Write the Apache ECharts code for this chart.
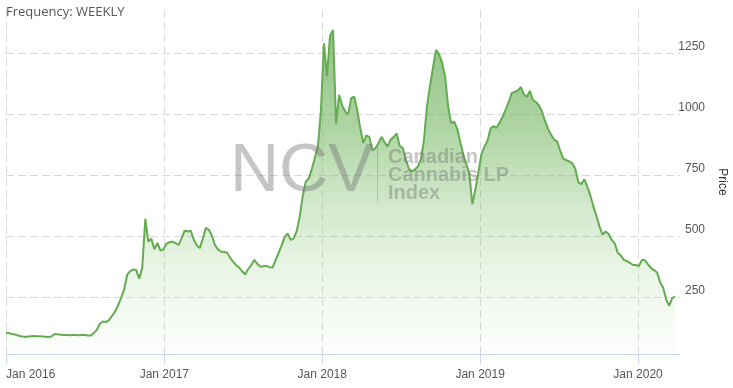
<!DOCTYPE html>
<html>
<head>
<meta charset="utf-8">
<script src="https://cdn.jsdelivr.net/npm/echarts@6/dist/echarts.min.js"></script>
<style>
html,body{margin:0;padding:0;background:#fff;}
#chart{width:733px;height:388px;}
</style>
</head>
<body>
<div id="chart"></div>
<script>
// Weekly series, first week starting 2016-01-01
const startYear = 2016, startMonth = 0, startDay = 1;
const prices = [
  104,101,98,96,92,89,87,87,89,90,
  89,89,88,87,86,88,98,97,95,94,
  94,93,94,94,93,94,94,92,92,102,
  115,140,149,147,155,172,190,215,245,280,
  340,356,362,360,325,370,570,477,488,445,
  471,440,445,468,474,477,470,463,490,522,
  518,521,485,462,450,490,533,525,500,463,
  445,436,434,432,410,395,380,370,355,342,
  365,380,402,385,374,376,377,372,370,400,
  430,460,495,510,484,490,520,579,665,723,
  735,775,820,866,1016,1290,1155,1320,1344,960,
  1078,1035,1010,1000,1065,1071,1015,940,881,912,
  905,850,860,880,906,885,866,895,905,920,
  869,861,815,775,765,772,784,815,890,1030,
  1115,1190,1262,1245,1210,1155,1030,962,968,940,
  885,835,795,755,630,690,760,835,866,890,
  940,950,943,965,989,1018,1049,1085,1091,1095,
  1110,1080,1070,1095,1057,1049,1035,1010,970,940,
  915,895,888,850,817,811,805,798,775,720,
  712,732,700,665,620,580,538,504,518,508,
  484,470,431,420,402,397,390,381,381,376,
  402,400,383,368,360,350,310,288,240,213,
  245,252
];
const yearTicks = [2016, 2017, 2018, 2019, 2020];
const priceTicks = [250, 500, 750, 1000, 1250];

const DAY = 86400000;
const t0 = new Date(startYear, startMonth, startDay).getTime();
const seriesData = prices.map((v, i) => [t0 + i * 7 * DAY, v]);
const yearTs = yearTicks.map(y => new Date(y, 0, 1).getTime());

const chart = echarts.init(document.getElementById('chart'));
chart.setOption({
  animation: false,
  title: {
    text: 'Frequency: WEEKLY',
    left: 1, top: 1,
    textStyle: {fontFamily: 'Open Sans', fontSize: 13, fontWeight: 'normal', color: '#555'}
  },
  grid: {left: 6, right: 53, top: 10, bottom: 34, outerBoundsMode: 'none', containLabel: false},
  xAxis: {
    type: 'value',
    min: new Date(2016, 0, 1).getTime(),
    max: new Date(2020, 3, 7).getTime(),
    axisLine: {lineStyle: {color: '#ccd6eb'}},
    axisTick: {show: true, length: 10, lineStyle: {color: '#ccd6eb'}, customValues: yearTs},
    axisLabel: {
      customValues: yearTs,
      formatter: v => 'Jan ' + new Date(v).getFullYear(),
      fontFamily: 'Liberation Sans', fontSize: 12, color: '#555',
      margin: 15, alignMinLabel: 'left'
    },
    splitLine: {show: true, lineStyle: {color: '#d9d9d9', type: [8, 4]}}
  },
  yAxis: {
    type: 'value',
    position: 'right',
    min: 16, max: 1426,
    name: 'Price',
    nameLocation: 'middle',
    nameRotate: -90,
    nameGap: 36,
    nameTextStyle: {fontFamily: 'Liberation Sans', fontSize: 12, color: '#333'},
    axisLine: {show: false},
    axisTick: {show: false, customValues: priceTicks},
    axisLabel: {
      customValues: priceTicks,
      formatter: v => String(v),
      align: 'right', margin: 25, verticalAlign: 'bottom',
      fontFamily: 'Liberation Sans', fontSize: 12, color: '#555'
    },
    splitLine: {show: true, lineStyle: {color: '#d9d9d9', type: [8, 4]}}
  },
  graphic: [
    {type: 'text', left: 230, top: 138, z: 100, silent: true,
     style: {text: 'NCV', font: '68px "Liberation Sans"', fill: 'rgba(110,110,110,0.4)'}},
    {type: 'line', z: 100, silent: true,
     shape: {x1: 377.5, y1: 145, x2: 377.5, y2: 202},
     style: {stroke: 'rgba(110,110,110,0.3)', lineWidth: 1}},
    {type: 'text', left: 388, top: 147, z: 100, silent: true,
     style: {text: 'Canadian\nCannabis LP\nIndex', font: 'bold 20px "Liberation Sans"', lineHeight: 18, fill: 'rgba(110,110,110,0.4)'}}
  ],
  series: [{
    type: 'line',
    data: seriesData,
    showSymbol: false,
    symbol: 'none',
    lineStyle: {color: '#64ab51', width: 2},
    areaStyle: {
      color: new echarts.graphic.LinearGradient(0, 0, 0, 1, [
        {offset: 0, color: 'rgba(98,170,78,1)'},
        {offset: 0.3, color: 'rgba(106,176,86,0.78)'},
        {offset: 0.6, color: 'rgba(125,192,105,0.42)'},
        {offset: 1, color: 'rgba(190,225,180,0.06)'}
      ])
    }
  }]
});
</script>
</body>
</html>
